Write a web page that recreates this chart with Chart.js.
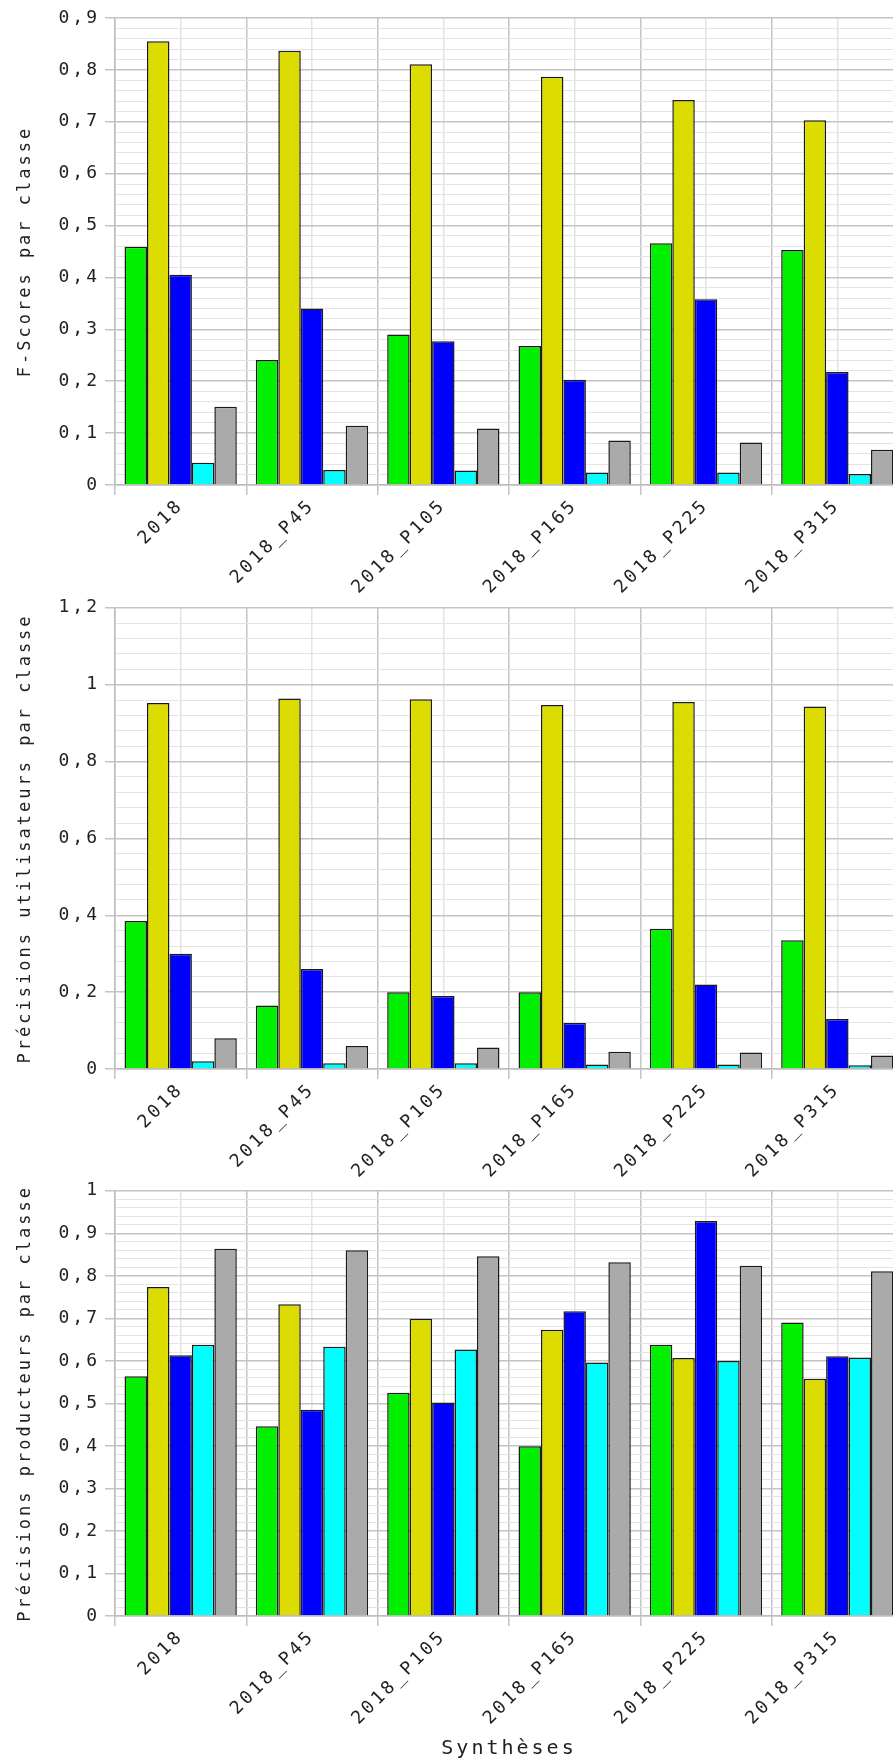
<!DOCTYPE html>
<html>
<head>
<meta charset="utf-8">
<script src="https://cdn.jsdelivr.net/npm/chart.js@4.4.1/dist/chart.umd.min.js"></script>
<style>
  html, body { margin: 0; padding: 0; background: #fff; overflow: hidden; }
  body { width: 893px; height: 1762px; position: relative; }
  .box { position: absolute; left: 0; width: 910px; }
</style>
</head>
<body>
<div class="box" style="top:0;height:600px"><canvas id="fscore"></canvas></div>
<div class="box" style="top:592px;height:592px"><canvas id="user"></canvas></div>
<div class="box" style="top:1175px;height:587px"><canvas id="prod"></canvas></div>
<script>
const syntheses = ["2018", "2018_P45", "2018_P105", "2018_P165", "2018_P225", "2018_P315"];
const classNames = ["Classe 1", "Classe 2", "Classe 3", "Classe 4", "Classe 5"];
const classColors = ["#00f000", "#dcdc00", "#0000ff", "#00ffff", "#aaaaaa"];

// F-Scores par classe
const fscoreC1 = [0.459, 0.241, 0.290, 0.268, 0.466, 0.453];
const fscoreC2 = [0.855, 0.837, 0.811, 0.787, 0.742, 0.703];
const fscoreC3 = [0.405, 0.340, 0.277, 0.203, 0.358, 0.218];
const fscoreC4 = [0.043, 0.029, 0.028, 0.024, 0.024, 0.021];
const fscoreC5 = [0.151, 0.114, 0.109, 0.086, 0.082, 0.068];

// Précisions utilisateurs par classe
const userC1 = [0.385, 0.165, 0.200, 0.200, 0.365, 0.335];
const userC2 = [0.952, 0.964, 0.962, 0.947, 0.955, 0.943];
const userC3 = [0.300, 0.260, 0.190, 0.120, 0.220, 0.130];
const userC4 = [0.020, 0.015, 0.015, 0.012, 0.012, 0.010];
const userC5 = [0.080, 0.060, 0.056, 0.045, 0.043, 0.035];

// Précisions producteurs par classe
const prodC1 = [0.564, 0.446, 0.525, 0.399, 0.638, 0.690];
const prodC2 = [0.774, 0.733, 0.699, 0.673, 0.607, 0.558];
const prodC3 = [0.613, 0.485, 0.502, 0.717, 0.929, 0.611];
const prodC4 = [0.638, 0.633, 0.627, 0.596, 0.600, 0.608];
const prodC5 = [0.864, 0.860, 0.846, 0.832, 0.824, 0.811];

const mono = "'DejaVu Sans Mono', 'Liberation Mono', monospace";
const majorGrid = "#c4c4c4";
const minorGrid = "#e4e4e4";

// the original font is wider than DejaVu Sans Mono, spread the letters a bit
const spacing = {
  id: "spacing",
  beforeLayout(chart) { chart.ctx.letterSpacing = "3px"; },
  beforeDraw(chart) { chart.ctx.letterSpacing = "3px"; },
};

function isMajor(v, major) {
  const r = v / major;
  return Math.abs(r - Math.round(r)) < 1e-6;
}

function fmt(v) {
  return String(Math.round(v * 10) / 10).replace(".", ",");
}

function makeChart(id, yTitle, rows, max, major, minor, padTop, xHeight, xTitle) {
  const datasets = rows.map((row, i) => ({
    label: classNames[i],
    data: row,
    backgroundColor: classColors[i],
    borderColor: "#1a1a1a",
    borderWidth: 1.5,
    categoryPercentage: 0.855,
    barPercentage: 1.0,
  }));

  return new Chart(document.getElementById(id), {
    type: "bar",
    data: { labels: syntheses, datasets },
    plugins: [spacing],
    options: {
      responsive: true,
      maintainAspectRatio: false,
      animation: false,
      layout: { padding: { top: padTop, right: 7, left: 0, bottom: 0 } },
      plugins: {
        legend: { display: false },
        tooltip: { enabled: false },
      },
      scales: {
        x: {
          offset: true,
          grid: { offset: true, color: majorGrid, lineWidth: 1.5, tickLength: 10, tickColor: majorGrid },
          border: { color: "#bdbdbd", width: 1.5 },
          ticks: {
            autoSkip: false,
            minRotation: 45,
            maxRotation: 45,
            padding: 0,
            color: "#222",
            font: { family: mono, size: 18 },
          },
          title: {
            display: !!xTitle,
            text: xTitle || "",
            color: "#222",
            font: { family: mono, size: 20 },
            padding: { top: 4, bottom: 1 },
          },
          afterFit(s) { s.height = xHeight; },
        },
        // lighter lines through the middle of each category
        x2: {
          type: "category",
          position: "bottom",
          offset: true,
          grid: { offset: false, color: minorGrid, lineWidth: 1.5, drawTicks: false },
          ticks: { display: false },
          border: { display: false },
          afterFit(s) { s.height = 0; },
        },
        y: {
          min: 0,
          max: max,
          ticks: {
            stepSize: minor,
            autoSkip: false,
            padding: 5,
            color: "#222",
            font: { family: mono, size: 18 },
            callback: (v) => (isMajor(v, major) ? fmt(v) : ""),
          },
          grid: {
            color: (c) => (c.tick && isMajor(c.tick.value, major) ? majorGrid : minorGrid),
            lineWidth: (c) => (c.tick && isMajor(c.tick.value, major) ? 1.5 : 1),
            tickColor: (c) => (c.tick && isMajor(c.tick.value, major) ? majorGrid : "rgba(0,0,0,0)"),
            tickLength: 10,
          },
          border: { color: "#bdbdbd", width: 1.5 },
          title: {
            display: true,
            text: yTitle,
            color: "#222",
            font: { family: mono, size: 17 },
            padding: { top: 15, bottom: 0 },
          },
          afterFit(s) { s.width = 115; },
        },
      },
    },
  });
}

makeChart("fscore", "F-Scores par classe",
  [fscoreC1, fscoreC2, fscoreC3, fscoreC4, fscoreC5], 0.9, 0.1, 0.02, 18, 115);
makeChart("user", "Précisions utilisateurs par classe",
  [userC1, userC2, userC3, userC4, userC5], 1.2, 0.2, 0.04, 11, 115);
makeChart("prod", "Précisions producteurs par classe",
  [prodC1, prodC2, prodC3, prodC4, prodC5], 1.0, 0.1, 0.02, 13, 146, "Synthèses");
</script>
</body>
</html>
